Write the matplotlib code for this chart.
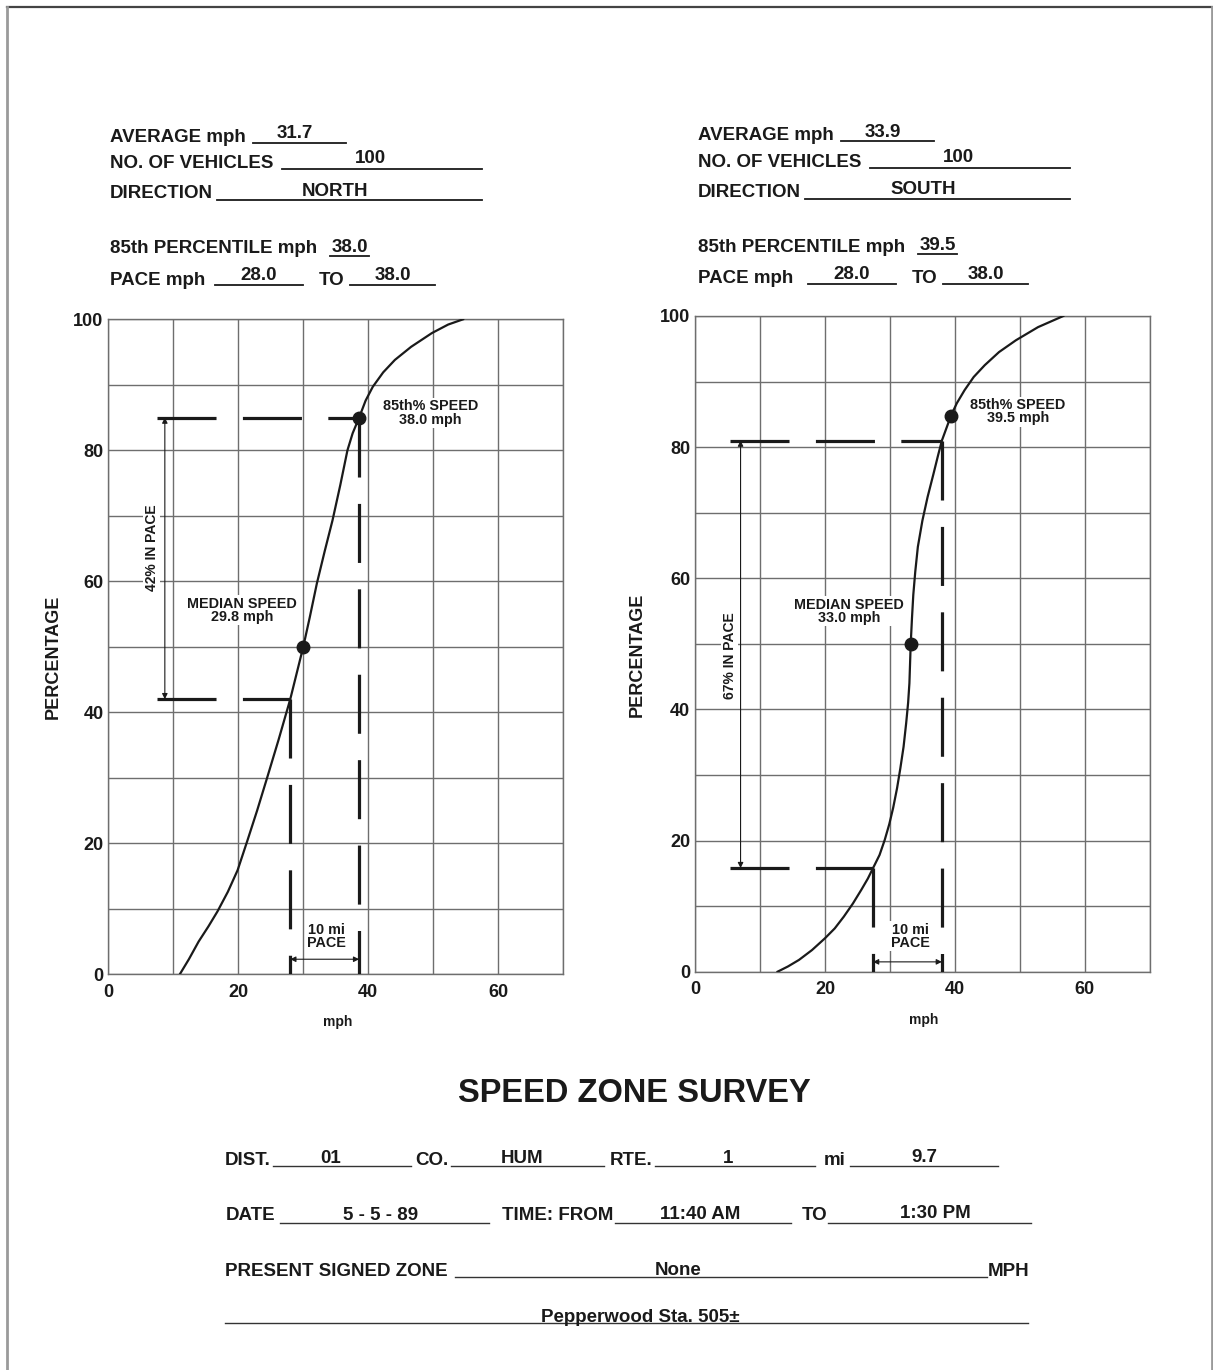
import matplotlib
matplotlib.use('Agg')
import matplotlib.pyplot as plt
from matplotlib.lines import Line2D

plt.rcParams['font.family'] = ['Liberation Sans', 'DejaVu Sans']
plt.rcParams['font.weight'] = 'bold'
plt.rcParams['lines.scale_dashes'] = False

W, H = 1213, 1370
INK = '#1a1a1a'
GRID = '#6e6e6e'
DASH = (0, (42.5, 19))

# ---- data (mph, cumulative %) ----
north_mph = [11.0, 12.4, 13.9, 15.4, 16.8, 18.4, 19.9, 21.4, 22.9, 24.5,
             26.2, 28.0, 29.0, 30.0, 31.0, 32.1, 33.3, 34.5, 35.7, 36.8,
             37.6, 38.6, 39.6, 40.7, 42.3, 44.1, 46.6, 49.8, 52.3, 54.6]
north_pct = [0, 2.3, 5.0, 7.3, 9.6, 12.6, 15.9, 20.4, 25.0, 30.2,
             35.8, 42.0, 46.0, 50.0, 54.5, 59.7, 64.6, 69.3, 74.7, 80.0,
             82.6, 85.0, 87.6, 89.7, 91.9, 93.8, 95.8, 97.9, 99.2, 100]
south_mph = [12.7, 14.3, 16.0, 18.0, 20.0, 21.5, 22.9, 24.3, 25.6, 26.6,
             27.4, 28.4, 29.2, 29.9, 30.5, 31.1, 31.6, 32.1, 32.5, 32.8,
             33.0, 33.2, 33.4, 33.6, 33.9, 34.3, 35.0, 35.8, 36.7, 37.4,
             38.0, 38.7, 39.4, 40.3, 41.5, 42.9, 44.6, 46.8, 49.4, 52.8, 56.7]
south_pct = [0, 0.8, 1.8, 3.3, 5.1, 6.6, 8.4, 10.4, 12.5, 14.2,
             15.8, 17.8, 20.1, 22.5, 25.0, 28.0, 31.0, 34.3, 37.9, 41.0,
             44.0, 50.0, 54.0, 57.5, 61.0, 64.8, 68.8, 72.4, 75.9, 78.7,
             81.0, 82.9, 84.8, 86.7, 88.7, 90.7, 92.5, 94.5, 96.3, 98.3, 100]

north_median = (30.0, 50.0)
north_p85 = (38.6, 85.0)
north_pace = (28.0, 38.6)
north_pace_pct = (42.0, 85.0)
south_median = (33.2, 50.0)
south_p85 = (39.4, 84.8)
south_pace = (27.4, 38.0)
south_pace_pct = (15.8, 81.0)

header_labels = ['AVERAGE mph', 'NO. OF VEHICLES', 'DIRECTION',
                 '85th PERCENTILE mph', 'PACE mph', 'TO']
north_values = ['31.7', '100', 'NORTH', '38.0', '28.0', '38.0']
south_values = ['33.9', '100', 'SOUTH', '39.5', '28.0', '38.0']


def fx(x):
    return x / W


def fy(y):
    return 1 - y / H


fig = plt.figure(figsize=(W / 100, H / 100), dpi=100)
fig.patch.set_facecolor('white')


def hline(x0, x1, y, lw=1.3, color=INK):
    fig.add_artist(Line2D([fx(x0), fx(x1)], [fy(y), fy(y)], lw=lw, color=color,
                          transform=fig.transFigure))


def ftext(x, y, s, ha='left', size=13.5):
    fig.text(fx(x), fy(y), s, ha=ha, va='center_baseline', fontsize=size,
             fontweight='bold', color=INK)


# page frame
fig.add_artist(Line2D([fx(7), fx(1212)], [fy(7), fy(7)], lw=1.6, color='#444444'))
fig.add_artist(Line2D([fx(7), fx(7)], [fy(7), fy(1370)], lw=2.0, color='#9a9a9a'))
fig.add_artist(Line2D([fx(1212), fx(1212)], [fy(7), fy(1370)], lw=2.0, color='#9a9a9a'))

# ---- header blocks ----
lab_pos = [(110, 135), (110, 161.7), (110, 191.7), (110, 246.7), (110, 278.3), (318.3, 278.3)]
line_pos = [(253.3, 346, 142.7), (281.7, 481.7, 169.3), (216.7, 481.7, 200),
            (330, 369.3, 255.7), (215, 303.3, 285), (350, 435, 285)]
val_pos = [(295, 131.7), (370.7, 156.7), (335, 189.3), (350, 245), (258.3, 274), (393.3, 274)]


def header(dx, dy, values, extra=0):
    for i, (lab, val) in enumerate(zip(header_labels, values)):
        e = extra if i >= 4 else 0
        lx, ly = lab_pos[i]
        ftext(lx + dx + (e if i == 5 else 0), ly + dy, lab)
        x0, x1, y = line_pos[i]
        hline(x0 + dx + e, x1 + dx + e, y + dy)
        vx, vy = val_pos[i]
        ftext(vx + dx + e, vy + dy, val, ha='center')


header(0, 0, north_values)
header(588, -1.5, south_values, extra=5)


# ---- charts ----
def chart(rect, mph, pct, med, p85, pace, pace_pct, x_start, arrow_x,
          inpace, inpace_xy, med_txt, med_xy, p85_txt, p85_xy, pace_y, pace_xy,
          ylab_x, xlab_xy):
    ax = fig.add_axes(rect)
    ax.set_xlim(0, 70)
    ax.set_ylim(0, 100)
    ax.set_xticks([0, 20, 40, 60])
    ax.set_xticks(range(0, 71, 10), minor=True)
    ax.set_yticks(range(0, 101, 20))
    ax.set_yticks(range(0, 101, 10), minor=True)
    ax.grid(True, which='both', color=GRID, lw=1.0, zorder=0)
    ax.set_axisbelow(True)
    for s in ax.spines.values():
        s.set_color(GRID)
        s.set_linewidth(1.0)
    ax.tick_params(which='both', length=0, labelsize=13, colors=INK)
    ax.tick_params(axis='x', pad=7)
    ax.tick_params(axis='y', pad=3.5)
    for t in ax.get_xticklabels() + ax.get_yticklabels():
        t.set_fontweight('bold')

    ax.plot(mph, pct, color=INK, lw=1.6, zorder=4, solid_joinstyle='round')

    lo, hi = pace
    plo, phi = pace_pct
    kw = dict(color=INK, lw=2.3, ls=DASH, zorder=4)
    ax.plot([x_start, lo], [plo, plo], **kw)
    ax.plot([x_start, hi], [phi, phi], **kw)
    ax.plot([lo, lo], [plo, 0], **kw)
    ax.plot([hi, hi], [phi, 0], **kw)

    ax.plot(*med, 'o', color=INK, ms=9, zorder=5)
    ax.plot(*p85, 'o', color=INK, ms=9, zorder=5)

    ap = dict(arrowstyle='<|-|>', lw=0.8, color=INK, mutation_scale=8,
              shrinkA=0, shrinkB=0)
    ax.annotate('', xy=(arrow_x, plo), xytext=(arrow_x, phi), arrowprops=ap, zorder=4)
    ax.annotate('', xy=(lo, pace_y), xytext=(hi, pace_y), arrowprops=ap, zorder=4)

    bb = dict(facecolor='white', edgecolor='none', pad=1)
    ax.text(*inpace_xy, inpace, rotation=90, ha='center', va='center',
            fontsize=10, fontweight='bold', color=INK, bbox=bb, zorder=3)
    for s, xy in [(med_txt, med_xy), (p85_txt, p85_xy), ('10 mi\nPACE', pace_xy)]:
        ax.text(*xy, s, ha='center', va='center', fontsize=10.4,
                fontweight='bold', color=INK, linespacing=0.92, bbox=bb, zorder=3)

    ax.text(ylab_x, 0.484, 'PERCENTAGE', transform=ax.transAxes, rotation=90,
            ha='center', va='center', fontsize=13, fontweight='bold', color=INK)
    ax.text(*xlab_xy, 'mph', transform=ax.transAxes, ha='center', va='center',
            fontsize=10, fontweight='bold', color=INK)
    return ax


chart([fx(108.3), fy(974.3), (563.2 - 108.3) / W, 655 / H],
      north_mph, north_pct, north_median, north_p85, north_pace, north_pace_pct,
      7.43, 8.7, '42% IN PACE', (6.66, 65.2),
      'MEDIAN SPEED\n29.8 mph', (20.6, 55.6),
      "85th% SPEED\n38.0 mph", (49.6, 85.7), 2.3, (33.6, 5.8),
      -0.1205, (0.505, -0.0724))

chart([fx(695.1), fy(971.7), (1149.7 - 695.1) / W, 655.7 / H],
      south_mph, south_pct, south_median, south_p85, south_pace, south_pace_pct,
      5.4, 7.0, '67% IN PACE', (5.3, 48.2),
      'MEDIAN SPEED\n33.0 mph', (23.7, 55.0),
      "85th% SPEED\n39.5 mph", (49.7, 85.4), 1.5, (33.1, 5.4),
      -0.1265, (0.5026, -0.0737))

# ---- footer form ----
ftext(634.5, 1090, 'SPEED ZONE SURVEY', ha='center', size=23.5)

form_labels = [('DIST.', 224.8, 1158.3), ('CO.', 415.4, 1158.3), ('RTE.', 609.7, 1158.3),
               ('mi', 824, 1158.3), ('DATE', 225.9, 1214), ('TIME: FROM', 502.2, 1214),
               ('TO', 801.3, 1214), ('PRESENT SIGNED ZONE', 224.8, 1269.3),
               ('MPH', 988.2, 1270)]
form_lines = [(272.5, 411.2, 1166), (450.9, 604.4, 1166), (654.7, 814.6, 1166),
              (849.5, 997.7, 1166), (280.4, 489, 1223.3), (615, 790.7, 1223.3),
              (828.3, 1030.5, 1223.3), (454.6, 987.1, 1277.3), (224.8, 1027.9, 1323.3)]
form_values = ['01', 'HUM', '1', '9.7', '5 - 5 - 89', '11:40 AM', '1:30 PM', 'None',
               'Pepperwood Sta. 505\u00b1']
value_pos = [(330.7, 1156.7), (522.3, 1156.7), (727.7, 1156.7), (924.7, 1155),
             (380.5, 1213), (699.7, 1212.7), (935.2, 1211.7), (678.5, 1268.3),
             (639.9, 1315)]

for s, x, y in form_labels:
    ftext(x, y, s)
for x0, x1, y in form_lines:
    hline(x0, x1, y, lw=1.0, color='#333333')
for s, (x, y) in zip(form_values, value_pos):
    ftext(x, y, s, ha='center')

fig.savefig('out.png', dpi=100, facecolor='white')
